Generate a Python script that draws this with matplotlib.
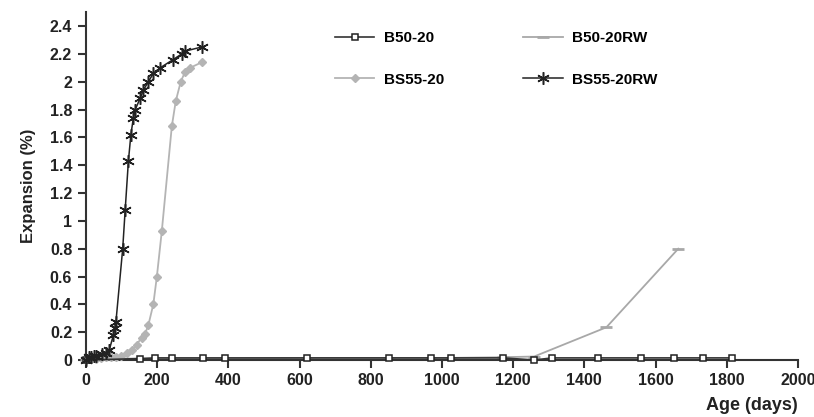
import matplotlib.pyplot as plt

plt.rcParams['font.family'] = ['Liberation Sans', 'DejaVu Sans']
plt.rcParams['font.weight'] = 'bold'

# B50-20 (open squares)
b50_days = [0, 152, 194, 241, 330, 390, 620, 851, 969, 1025, 1172, 1259, 1310, 1439, 1559, 1652, 1734, 1815]
b50_exp = [0.0, 0.01, 0.015, 0.015, 0.015, 0.015, 0.015, 0.015, 0.015, 0.015, 0.015, 0.0, 0.015, 0.015, 0.015, 0.015, 0.015, 0.015]

# B50-20RW (grey line, dash markers)
b50rw_days = [0, 28, 56, 112, 130, 175, 241, 330, 390, 620, 851, 969, 1025, 1172, 1259, 1462, 1664]
b50rw_exp = [0.0, 0.005, 0.01, 0.01, 0.01, 0.01, 0.01, 0.01, 0.01, 0.015, 0.015, 0.015, 0.015, 0.02, 0.025, 0.235, 0.80]

# BS55-20 (grey diamonds)
bs55_days = [0, 7, 14, 28, 42, 56, 70, 84, 98, 114, 128, 142, 156, 166, 175, 189, 199, 213, 241, 252, 266, 278, 292, 325]
bs55_exp = [0.0, 0.005, 0.01, 0.01, 0.015, 0.02, 0.02, 0.025, 0.03, 0.05, 0.07, 0.11, 0.16, 0.19, 0.25, 0.40, 0.60, 0.93, 1.68, 1.86, 2.00, 2.07, 2.10, 2.14]

# BS55-20RW (asterisks)
bs55rw_days = [0, 7, 14, 21, 28, 44, 56, 65, 77, 81, 84, 103, 110, 119, 126, 133, 138, 152, 161, 175, 189, 208, 245, 269, 278, 325]
bs55rw_exp = [0.0, 0.02, 0.02, 0.03, 0.03, 0.04, 0.05, 0.07, 0.18, 0.23, 0.275, 0.80, 1.08, 1.43, 1.62, 1.74, 1.80, 1.88, 1.94, 2.00, 2.06, 2.10, 2.16, 2.20, 2.22, 2.25]

fig = plt.figure(figsize=(8.14, 4.17), dpi=100)
ax = fig.add_axes([0.1057, 0.1367, 0.8745, 0.834])

ax.plot(b50rw_days, b50rw_exp, color='#a8a8a8', lw=1.3, marker='_', ms=9, mew=2,
        label='B50-20RW', clip_on=False, zorder=2)
ax.plot(bs55_days, bs55_exp, color='#b4b4b4', lw=1.3, marker='D', ms=4.5,
        label='BS55-20', clip_on=False, zorder=3)
ax.plot(b50_days, b50_exp, color='#333333', lw=1.2, marker='s', ms=5, mfc='white',
        mec='#222222', mew=1.1, label='B50-20', clip_on=False, zorder=4)
ax.plot(bs55rw_days, bs55rw_exp, color='#222222', lw=1.1, marker=(6, 2, 0), ms=9,
        mew=1.1, label='BS55-20RW', clip_on=False, zorder=5)

ax.set_xlim(0, 2000)
ax.set_ylim(0, 2.5)
ax.set_xticks(range(0, 2001, 200))
ax.set_yticks([0, 0.2, 0.4, 0.6, 0.8, 1, 1.2, 1.4, 1.6, 1.8, 2, 2.2, 2.4])
ax.set_yticklabels(['0', '0.2', '0.4', '0.6', '0.8', '1', '1.2', '1.4', '1.6', '1.8', '2', '2.2', '2.4'])

for s in ['top', 'right']:
    ax.spines[s].set_visible(False)
for s in ['left', 'bottom']:
    ax.spines[s].set_color('#333333')
    ax.spines[s].set_linewidth(1.5)
ax.tick_params(axis='both', direction='out', length=6, width=1.5, color='#333333',
               labelsize=11.5, labelcolor='#222222')
ax.tick_params(axis='y', pad=4)

ax.set_ylabel('Expansion (%)', fontsize=12, fontweight='bold', color='#222222', labelpad=10)
ax.set_xlabel('Age (days)', fontsize=13, fontweight='bold', color='#222222', loc='right', labelpad=6)

h, l = ax.get_legend_handles_labels()
order = [2, 1, 0, 3]
ax.legend([h[i] for i in order], [l[i] for i in order], ncol=2, frameon=False,
          loc='upper left', bbox_to_anchor=(0.33, 0.985), fontsize=11,
          labelspacing=1.8, columnspacing=5.2, handlelength=2.6, handletextpad=0.6)

plt.savefig('out.png', dpi=100)
